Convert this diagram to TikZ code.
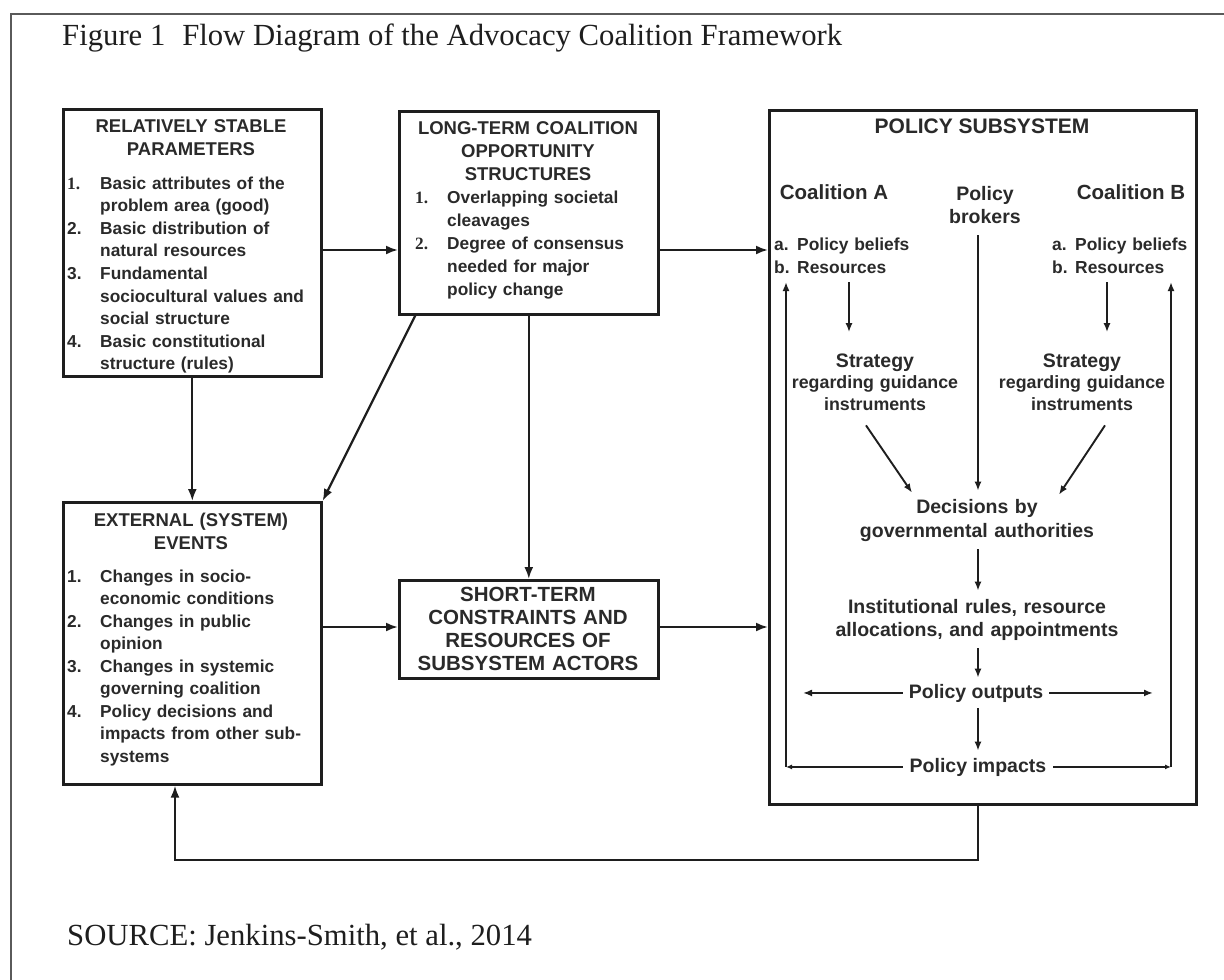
\documentclass[tikz,border=0pt]{standalone}
\usepackage{fontspec}
\setmainfont{Liberation Serif}
\setsansfont{Liberation Sans}
\usetikzlibrary{arrows.meta,calc}
\definecolor{ink}{HTML}{1E1E1E}
\definecolor{txtc}{HTML}{2A2A2A}
\definecolor{framec}{HTML}{5A5A5A}
\newcommand{\fs}[2]{\fontsize{#1}{#2}\selectfont}
\newcommand{\numb}[1]{\makebox[33pt][l]{#1}}
\newcommand{\numc}[1]{\makebox[32pt][l]{#1}}
\newcommand{\indb}{\hspace*{33pt}}
\newcommand{\indc}{\hspace*{32pt}}
\newcommand{\letr}[1]{\makebox[23pt][l]{#1}}
\begin{document}
\begin{tikzpicture}[x=1pt,y=-1pt,
  box/.style={draw=ink, line width=2.6pt, inner sep=0pt, anchor=north west},
  lbl/.style={inner sep=0pt, text=txtc},
  hd/.style={lbl, font=\sffamily\bfseries\fs{18.5}{23}, anchor=base, text width=250pt, align=center},
  itm/.style={lbl, font=\sffamily\bfseries\fs{17.3}{22.6}, anchor=base west, text width=250pt, align=left},
  ctr/.style={lbl, font=\sffamily\bfseries\fs{19.5}{23}, anchor=base, align=center},
  arr/.style={draw=ink, line width=2.2pt, -{Latex[length=12pt,width=9pt]}},
  sarr/.style={draw=ink, line width=1.9pt, -{Latex[length=9pt,width=7pt]}},
  carr/.style={draw=ink, line width=1.9pt, -{Latex[length=6pt,width=5pt]}},
]
\useasboundingbox (0,0) rectangle (1224,980);
\fill[white] (0,0) rectangle (1224,980);
\draw[framec, line width=2pt] (1224,14) -- (11,14) -- (11,980);

% title and source
\node[lbl, anchor=base west, text=ink, font=\rmfamily\fs{30.7}{36}] (title) at (62,45)
  {Figure 1\hspace{0.55em}Flow Diagram of the Advocacy Coalition Framework};
\node[lbl, anchor=base west, text=ink, font=\rmfamily\fs{30.7}{36}] (src) at (67,945)
  {SOURCE: Jenkins-Smith, et al., 2014};

% boxes
\node[box, minimum width=258pt, minimum height=267pt] (rsp) at (62,108) {};
\node[box, minimum width=259pt, minimum height=203pt] (ltc) at (398,110) {};
\node[box, minimum width=427pt, minimum height=694pt] (ps) at (768,109) {};
\node[box, minimum width=258pt, minimum height=282pt] (ee) at (62,501) {};
\node[box, minimum width=259pt, minimum height=98pt] (st) at (398,579) {};

% box 1
\node[hd] (rsph) at (191,132) {RELATIVELY STABLE\\PARAMETERS};
\node[itm] (rspi) at (67,189) {\numb{\rmfamily\bfseries 1.}Basic attributes of the\\
  \indb problem area (good)\\
  \numb{2.}Basic distribution of\\
  \indb natural resources\\
  \numb{3.}Fundamental\\
  \indb sociocultural values and\\
  \indb social structure\\
  \numb{4.}Basic constitutional\\
  \indb structure (rules)};

% box 2
\node[hd] (ltch) at (528,134) {LONG-TERM COALITION\\OPPORTUNITY\\STRUCTURES};
\node[itm, font=\sffamily\bfseries\fs{17.3}{23.2}] (ltci) at (415,203) {\numc{\rmfamily\bfseries 1.}Overlapping societal\\
  \indc cleavages\\
  \numc{\rmfamily\bfseries 2.}Degree of consensus\\
  \indc needed for major\\
  \indc policy change};

% box 4
\node[hd] (eeh) at (191,526) {EXTERNAL (SYSTEM)\\EVENTS};
\node[itm, font=\sffamily\bfseries\fs{17.3}{22.5}] (eei) at (67,582) {\numb{1.}Changes in socio-\\
  \indb economic conditions\\
  \numb{2.}Changes in public\\
  \indb opinion\\
  \numb{3.}Changes in systemic\\
  \indb governing coalition\\
  \numb{4.}Policy decisions and\\
  \indb impacts from other sub-\\
  \indb systems};

% box 5
\node[hd, font=\sffamily\bfseries\fs{20.5}{23}] (sth) at (528,601)
  {SHORT-TERM\\CONSTRAINTS AND\\RESOURCES OF\\SUBSYSTEM ACTORS};

% policy subsystem contents
\node[lbl, anchor=base, font=\sffamily\bfseries\fs{21}{25}] (psh) at (982,133) {POLICY SUBSYSTEM};
\node[lbl, anchor=base, font=\sffamily\bfseries\fs{20.5}{24}] (coalA) at (834,199) {Coalition A};
\node[lbl, anchor=base, font=\sffamily\bfseries\fs{20.5}{24}] (coalB) at (1131,199) {Coalition B};
\node[ctr, text width=120pt] (brok) at (985,200) {Policy\\brokers};
\node[itm, font=\sffamily\bfseries\fs{17.4}{23}, text width=140pt] (resA) at (774,250)
  {\letr{a.}Policy beliefs\\\letr{b.}Resources};
\node[itm, font=\sffamily\bfseries\fs{17.4}{23}, text width=140pt] (resB) at (1052,250)
  {\letr{a.}Policy beliefs\\\letr{b.}Resources};
\node[ctr, font=\sffamily\bfseries\fs{17.8}{21.5}, text width=190pt] (stratA) at (875,367)
  {{\fs{19.5}{21.5}Strategy}\\regarding guidance\\instruments};
\node[ctr, font=\sffamily\bfseries\fs{17.8}{21.5}, text width=190pt] (stratB) at (1082,367)
  {{\fs{19.5}{21.5}Strategy}\\regarding guidance\\instruments};
\node[ctr, font=\sffamily\bfseries\fs{19.5}{24}, text width=330pt, inner sep=8pt] (dec) at (977,513)
  {Decisions by\\governmental authorities};
\node[ctr, font=\sffamily\bfseries\fs{19.5}{23}, text width=330pt, inner sep=8pt] (inst) at (977,613)
  {Institutional rules, resource\\allocations, and appointments};
\node[ctr, inner sep=6pt] (outp) at (976,698) {Policy outputs};
\node[ctr, inner sep=7pt] (imp) at (978,772) {Policy impacts};

% connectors between boxes
\coordinate (r1) at (0,250);
\coordinate (r2) at (0,627);
\draw[arr] (rsp.east |- r1) -- (ltc.west |- r1);
\draw[arr] (ltc.east |- r1) -- (ps.west |- r1);
\draw[arr] (rsp.south) -- (ee.north);
\draw[arr] ($(ltc.south west)!0.066!(ltc.south east)$) -- (ee.north east);
\draw[arr] (ltc.south) -- (st.north);
\draw[arr] (ee.east |- r2) -- (st.west |- r2);
\draw[arr] (st.east |- r2) -- (ps.west |- r2);
\coordinate (fbR) at (978,860);
\coordinate (fbL) at (175,860);
\draw[arr] (ps.south -| fbR) -- (fbR) -- (fbL) -- (ee.south -| fbL);

% connectors inside the policy subsystem
\coordinate (mid) at (978,0);
\coordinate (cA) at (849,0);
\coordinate (cB) at (1107,0);
\draw[sarr, shorten <=9pt, shorten >=21pt] (resA.south -| cA) -- (stratA.north -| cA);
\draw[sarr, shorten <=9pt, shorten >=21pt] (resB.south -| cB) -- (stratB.north -| cB);
\draw[sarr] ($(stratA.south)+(-9,15)$) -- ($(dec.north)+(-65,2)$);
\draw[sarr] ($(stratB.south)+(23,15)$) -- ($(dec.north)+(82,4)$);
\draw[sarr, shorten <=12pt] (brok.south -| mid) -- (dec.north -| mid);
\draw[sarr] (dec.south -| mid) -- (inst.north -| mid);
\draw[sarr] (inst.south -| mid) -- (outp.north -| mid);
\draw[sarr] (outp.south -| mid) -- (imp.north -| mid);
\coordinate (oL) at (803,0);
\coordinate (oR) at (1153,0);
\draw[sarr] (outp.west) -- (outp.west -| oL);
\draw[sarr] (outp.east) -- (outp.east -| oR);
\coordinate (iL) at (786,0);
\coordinate (iR) at (1171,0);
\coordinate (tp) at (0,282);
\draw[carr] (imp.west) -- (imp.west -| iL);
\draw[carr] (imp.east) -- (imp.east -| iR);
\draw[sarr] (imp.west -| iL) -- (iL |- tp);
\draw[sarr] (imp.east -| iR) -- (iR |- tp);
\end{tikzpicture}
\end{document}
